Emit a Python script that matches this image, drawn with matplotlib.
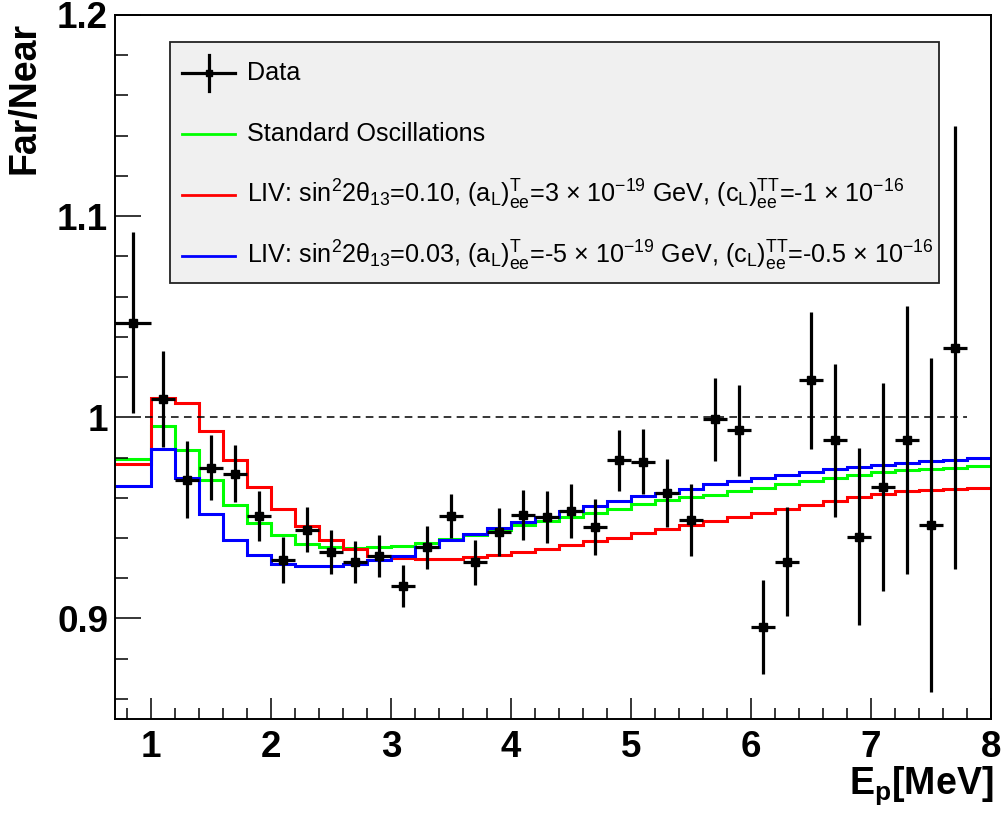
import numpy as np
import matplotlib
matplotlib.use("Agg")
import matplotlib.pyplot as plt
from matplotlib.ticker import FixedLocator, MultipleLocator
from matplotlib.patches import Rectangle
from matplotlib.lines import Line2D

plt.rcParams['font.family'] = ['Liberation Sans', 'DejaVu Sans']
plt.rcParams['mathtext.fontset'] = 'custom'
plt.rcParams['mathtext.rm'] = 'Liberation Sans'
plt.rcParams['mathtext.it'] = 'Liberation Sans:italic'
plt.rcParams['mathtext.bf'] = 'Liberation Sans:bold'
plt.rcParams['mathtext.default'] = 'rm'

# ---------------- data ----------------
data_x = [0.85, 1.1, 1.3, 1.5, 1.7, 1.9, 2.1, 2.3, 2.5, 2.7, 2.9, 3.1, 3.3, 3.5, 3.7,
          3.9, 4.1, 4.3, 4.5, 4.7, 4.9, 5.1, 5.3, 5.5, 5.7, 5.9, 6.1, 6.3, 6.5, 6.7,
          6.9, 7.1, 7.3, 7.5, 7.7]
data_xerr_lo = [0.15] + [0.1] * 34
data_xerr_hi = [0.15] + [0.1] * 34
data_y = [1.047, 1.009, 0.969, 0.975, 0.972, 0.951, 0.929, 0.944, 0.933, 0.928, 0.931,
          0.916, 0.9355, 0.951, 0.928, 0.943, 0.9514, 0.9504, 0.9534, 0.9454, 0.9786,
          0.978, 0.9625, 0.949, 0.999, 0.9935, 0.8957, 0.9283, 1.0183, 0.9886, 0.9406,
          0.9652, 0.9886, 0.9463, 1.0346]
data_yerr = [0.045, 0.024, 0.019, 0.016, 0.014, 0.0125, 0.0116, 0.0112, 0.0108, 0.0105,
             0.0106, 0.0105, 0.0107, 0.011, 0.0112, 0.012, 0.0125, 0.0129, 0.0135, 0.0139,
             0.015, 0.016, 0.017, 0.018, 0.0205, 0.0225, 0.0233, 0.027, 0.034, 0.038,
             0.044, 0.0517, 0.0666, 0.083, 0.11]

bin_edges = [0.7, 1.0, 1.2, 1.4, 1.6, 1.8, 2.0, 2.2, 2.4, 2.6, 2.8, 3.0, 3.2, 3.4, 3.6,
             3.8, 4.0, 4.2, 4.4, 4.6, 4.8, 5.0, 5.2, 5.4, 5.6, 5.8, 6.0, 6.2, 6.4, 6.6,
             6.8, 7.0, 7.2, 7.4, 7.6, 7.8, 8.0]

std_osc = [0.9794, 0.9955, 0.9836, 0.9687, 0.9565, 0.9476, 0.9413, 0.9371, 0.9355, 0.935,
           0.9355, 0.936, 0.9375, 0.9396, 0.9416, 0.9438, 0.9463, 0.9483, 0.9504, 0.9526,
           0.9546, 0.9567, 0.9587, 0.9602, 0.9614, 0.9632, 0.9650, 0.9667, 0.9685, 0.9700,
           0.9714, 0.9726, 0.9736, 0.9745, 0.9750, 0.9756]
liv_red = [0.977, 1.0098, 1.0073, 0.9932, 0.9786, 0.9653, 0.9542, 0.9458, 0.9391, 0.9347,
           0.9308, 0.9302, 0.9297, 0.9297, 0.9305, 0.9317, 0.9332, 0.9347, 0.9363, 0.9383,
           0.9401, 0.9424, 0.9443, 0.9463, 0.9484, 0.9504, 0.9524, 0.9543, 0.9563, 0.9583,
           0.9602, 0.9618, 0.9632, 0.9640, 0.9645, 0.9648]
liv_blue = [0.9657, 0.9844, 0.970, 0.9517, 0.9391, 0.9313, 0.9272, 0.9259, 0.9259, 0.9269,
            0.9290, 0.9310, 0.9355, 0.9388, 0.9421, 0.9451, 0.9479, 0.9504, 0.9534, 0.956,
            0.9584, 0.9607, 0.9625, 0.9645, 0.9668, 0.9685, 0.970, 0.9715, 0.9730, 0.9741,
            0.9754, 0.9765, 0.9774, 0.9783, 0.9790, 0.9797]

legend_labels = [
    "Data",
    "Standard Oscillations",
    r"LIV: sin$^{2}$2θ$_{13}$=0.10, (a$_{L}$)$^{T}_{ee}$=3 × 10$^{-19}$ GeV, (c$_{L}$)$^{TT}_{ee}$=-1 × 10$^{-16}$",
    r"LIV: sin$^{2}$2θ$_{13}$=0.03, (a$_{L}$)$^{T}_{ee}$=-5 × 10$^{-19}$ GeV, (c$_{L}$)$^{TT}_{ee}$=-0.5 × 10$^{-16}$",
]
yticks = [0.9, 1.0, 1.1, 1.2]
ytick_labels = ["0.9", "1", "1.1", "1.2"]
xticks = [1, 2, 3, 4, 5, 6, 7, 8]
ref_level = 1.0
ref_range = (0.95, 7.8)

# ---------------- figure ----------------
W, H = 1007, 816
fig = plt.figure(figsize=(W / 100, H / 100), dpi=100)
fig.patch.set_facecolor('white')

def fx(px):
    return px / W

def fy(py):
    return 1 - py / H

ax_l, ax_r, ax_t, ax_b = 115, 991, 15, 719
ax = fig.add_axes([fx(ax_l), fy(ax_b), (ax_r - ax_l) / W, (ax_b - ax_t) / H])
ax.set_xlim(0.7, 8.0)
ax.set_ylim(0.85, 1.2)

lw_hist = 2.2
ax.stairs(std_osc, bin_edges, color='#00ff00', lw=lw_hist, baseline=None)
ax.stairs(liv_red, bin_edges, color='#ff0000', lw=lw_hist, baseline=None)
ax.stairs(liv_blue, bin_edges, color='#0000ff', lw=lw_hist, baseline=None)

ax.hlines(ref_level, ref_range[0], ref_range[1], colors='k', linestyles=(0, (5, 3.5)), lw=1.1)

ax.errorbar(data_x, data_y, yerr=data_yerr, xerr=[data_xerr_lo, data_xerr_hi],
            fmt='s', ms=5.5, color='k', ecolor='k', elinewidth=2.3, capsize=0, zorder=5)

for s in ax.spines.values():
    s.set_linewidth(1.4)

ax.yaxis.set_major_locator(FixedLocator(yticks))
ax.set_yticklabels(ytick_labels)
ax.yaxis.set_minor_locator(MultipleLocator(0.02))
ax.xaxis.set_major_locator(FixedLocator(xticks))
ax.xaxis.set_minor_locator(MultipleLocator(0.2))

ax.tick_params(axis='both', which='both', direction='in', top=False, right=False, width=1.1)
ax.tick_params(axis='y', which='major', length=18.5, pad=5)
ax.tick_params(axis='y', which='minor', length=9.3)
ax.tick_params(axis='x', which='major', length=15, pad=8)
ax.tick_params(axis='x', which='minor', length=7.9)
for lab in ax.get_xticklabels() + ax.get_yticklabels():
    lab.set_fontsize(26.5)
    lab.set_fontweight('bold')

fig.text(fx(25), fy(22), "Far/Near", rotation=90, ha='center', va='top',
         fontsize=27, fontweight='bold')
fig.text(fx(993), fy(764), r"E$_{\mathbf{p}}$[MeV]", ha='right', va='top',
         fontsize=27, fontweight='bold')

# ---------------- legend box ----------------
lg_l, lg_r, lg_t, lg_b = 170, 939, 42, 283
fig.patches.append(Rectangle((fx(lg_l), fy(lg_b)), (lg_r - lg_l) / W, (lg_b - lg_t) / H,
                             transform=fig.transFigure, facecolor='#f0f0f0',
                             edgecolor='#222222', lw=1.3, zorder=10))
rows = [73, 134, 195, 256]
colors = ['k', '#00ff00', '#ff0000', '#0000ff']
hx0, hx1, tx = 182, 235, 247
for i, (ry, c, lab) in enumerate(zip(rows, colors, legend_labels)):
    fig.lines.append(Line2D([fx(hx0), fx(hx1)], [fy(ry), fy(ry)], transform=fig.transFigure,
                            color=c, lw=2.3 if i == 0 else 2.0, zorder=11))
    if i == 0:
        xm = (hx0 + hx1) / 2
        fig.lines.append(Line2D([fx(xm), fx(xm)], [fy(ry - 18), fy(ry + 18)],
                                transform=fig.transFigure, color='k', lw=2.3, zorder=11))
        fig.lines.append(Line2D([fx(xm)], [fy(ry)], transform=fig.transFigure, color='k',
                                marker='s', ms=4, zorder=11))
    fig.text(fx(tx), fy(ry), lab, ha='left', va='center', fontsize=18.1, zorder=12)

fig.savefig("out.png", dpi=100)
